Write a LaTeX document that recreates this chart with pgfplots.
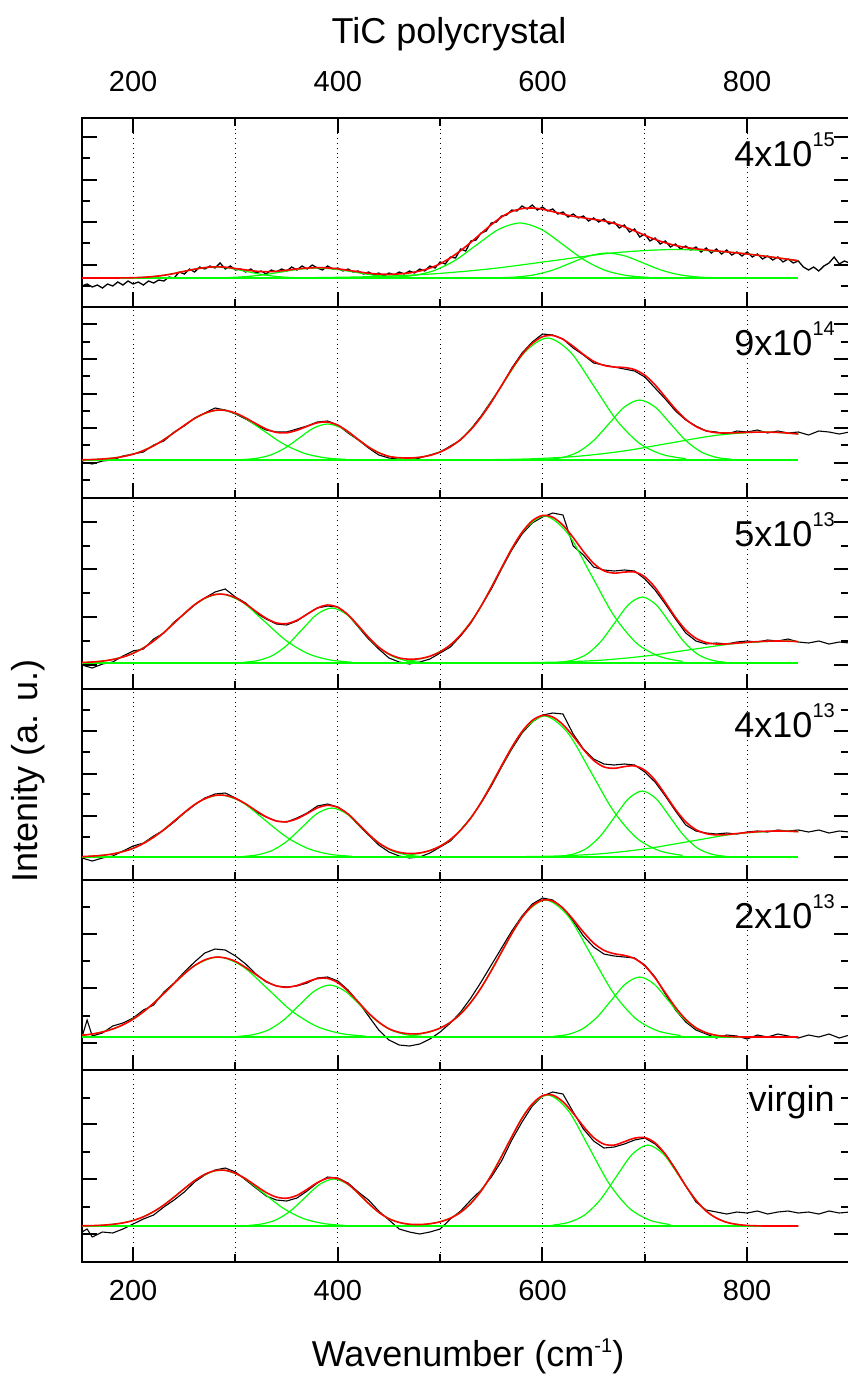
\documentclass[border=0pt]{standalone}
\usepackage{fontspec}
\setmainfont{Liberation Sans}
\usepackage{pgfplots}
\pgfplotsset{compat=1.18}
\newcommand{\fs}{\fontsize{14.5}{17}\selectfont}
\newcommand{\fl}{\fontsize{18}{21}\selectfont}
\newcommand{\sps}[1]{\raisebox{10pt}{\fontsize{10}{11}\selectfont #1}}
\definecolor{fitred}{RGB}{255,0,0}
\definecolor{cgreen}{RGB}{0,255,0}
\tikzset{lbl/.style={anchor=north east, inner sep=0pt, font=\fl}}
\pgfplotsset{
  panel/.style={scale only axis, width=383.75pt, xmin=150, xmax=900, ymin=0,
    anchor=north west, axis line style={line width=1.2pt},
    major tick style={black, line width=1pt}, minor tick style={black, line width=1pt},
    major tick length=7.5pt, minor tick length=4pt, tick align=inside,
    xtick={200,400,600,800}, minor xtick={300,500,700},
    xmajorgrids, xminorgrids, grid style={dotted, black, line width=0.5pt},
    xtick pos=left, ytick pos=both, yticklabels={}, xticklabels={},
    xticklabel style={font=\fs, inner sep=0pt}},
  blk/.style={black, line width=0.55pt, mark=none},
  grn/.style={cgreen, line width=0.6pt, mark=none, smooth},
  gbase/.style={cgreen, line width=1.2pt, mark=none},
  fit/.style={fitred, line width=0.8pt, mark=none, smooth}
}
\begin{document}
\begin{tikzpicture}
% ---------------- Panel 1 : 4x10^15 ----------------
\begin{axis}[panel, at={(0pt,0pt)}, height=94.5pt, ymax=189,
  xtick pos=both, xticklabel pos=right, xticklabels={200,400,600,800},
  xticklabel style={yshift=12.75pt},
  ytick={42.3,84.9,127.5,170.1}, minor ytick={21,63.6,106.2,148.8}]
\addplot[blk, line width=0.65pt] coordinates {(150,21)(155,23)(160,20)(165,22)(170,19)(175,23)(180,21)(185,25)(190,22)(195,26)(200,23)(205,25)(210,22)(215,26)(220,24)(225,27)(230,26)(235,30)(240,29)(245,35)(250,33)(255,38)(260,35)(265,40)(270,38)(275,41)(280,39)(285,44)(290,38)(295,41)(300,37)(305,38)(310,35)(315,38)(320,34)(325,36)(330,33)(335,37)(340,35)(345,38)(350,36)(355,40)(360,37)(365,41)(370,38)(375,42)(380,39)(385,37)(390,41)(395,38)(400,39)(405,36)(410,38)(415,35)(420,36)(425,33)(430,35)(435,32)(440,34)(445,31)(450,34)(455,32)(460,35)(465,33)(470,36)(475,34)(480,38)(485,36)(490,41)(495,39)(500,45)(505,43)(510,50)(515,49)(520,58)(525,56)(530,66)(535,67)(540,74)(545,76)(550,84)(555,85)(560,91)(565,92)(570,97)(575,96)(580,101)(585,98)(590,102)(595,97)(600,100)(605,96)(610,98)(615,93)(620,95)(625,90)(630,93)(635,89)(640,91)(645,86)(650,89)(655,85)(660,88)(665,83)(670,85)(675,79)(680,82)(685,75)(690,78)(695,70)(700,73)(705,66)(710,69)(715,63)(720,66)(725,60)(730,63)(735,58)(740,61)(745,57)(750,60)(755,55)(760,59)(765,54)(770,58)(775,53)(780,57)(785,52)(790,55)(795,51)(800,55)(805,50)(810,53)(815,48)(820,51)(825,47)(830,50)(835,45)(840,48)(845,44)(850,46)(855,40)(860,37)(865,40)(870,36)(875,41)(880,44)(885,50)(890,43)(895,46)(900,44)};
\addplot[gbase] coordinates {(150,29)(850,29)};
\addplot[grn] coordinates {(190,29.1)(205,29.5)(220,30.5)(235,32.6)(250,35.7)(265,38.7)(280,40)(295,38.7)(310,35.7)(325,32.6)(340,30.5)(355,29.5)(370,29.1)};
\addplot[grn] coordinates {(275,29.1)(292.5,29.4)(310,30.4)(327.5,32.2)(345,35.1)(362.5,37.8)(380,39)(397.5,37.8)(415,35.1)(432.5,32.2)(450,30.4)(467.5,29.4)(485,29.1)};
\addplot[grn] coordinates {(452,29.6)(473,31.4)(494,36.4)(515,46.9)(536,62.4)(557,77.5)(578,84)(599,77.5)(620,62.4)(641,46.9)(662,36.4)(683,31.4)(704,29.6)};
\addplot[grn] coordinates {(558,29.3)(575.5,30.1)(593,32.4)(610.5,37.1)(628,44.2)(645.5,51.1)(663,54)(680.5,51.1)(698,44.2)(715.5,37.1)(733,32.4)(750.5,30.1)(768,29.3)};
\addplot[grn] coordinates {(370,29.3)(430,30.3)(490,32.9)(550,38.3)(610,46.3)(670,54.2)(730,57.5)(790,54.2)(850,46.3)};
\addplot[fit] coordinates {(150,29)(160,29)(170,29)(180,29)(190,29.1)(200,29.3)(210,29.7)(220,30.5)(230,31.7)(240,33.5)(250,35.7)(260,37.8)(270,39.4)(280,40.2)(290,39.8)(300,38.5)(310,37.1)(320,35.8)(330,35.3)(340,35.7)(350,36.8)(360,38.1)(370,38.9)(380,39.4)(390,39.1)(400,38.2)(410,36.7)(420,35.2)(430,33.8)(440,32.9)(450,32.7)(460,33.1)(470,34.1)(480,36.0)(490,38.9)(500,43.3)(510,49.2)(520,56.4)(530,64.7)(540,73.6)(550,82.3)(560,90.0)(570,95.5)(580,98.4)(590,99.0)(600,97.8)(610,95.4)(620,92.9)(630,90.7)(640,89.2)(650,87.6)(660,86.1)(670,83.6)(680,80.2)(690,76.1)(700,71.7)(710,67.6)(720,64.2)(730,61.5)(740,59.6)(750,58.2)(760,57.1)(770,56.1)(780,55.1)(790,54.1)(800,53.0)(810,51.8)(820,50.5)(830,49.1)(840,47.7)(850,46.3)};
\node[lbl] at (axis cs:886,175) {4x10\sps{15}};
\end{axis}
% ---------------- Panel 2 : 9x10^14 ----------------
\begin{axis}[panel, at={(0pt,-94.5pt)}, height=95.5pt, ymax=191,
  ytick={35.3,69.9,104.5,139.1,173.7}, minor ytick={18,52.6,87.2,121.8,156.4}]
\addplot[blk] coordinates {(150,36)(160,34)(170,37)(180,38)(190,42)(200,44)(210,46)(220,53)(230,57)(240,66)(250,72)(260,80)(270,85)(280,90)(290,88)(300,84)(310,79)(320,73)(330,68)(340,66)(350,66)(360,69)(370,72)(380,76)(390,77)(400,73)(410,65)(420,58)(430,50)(440,43)(450,40)(460,39)(470,38)(480,40)(490,43)(500,46)(510,52)(520,58)(530,69)(540,82)(550,97)(560,112)(570,130)(580,145)(590,156)(600,164)(610,163)(620,159)(630,150)(640,143)(650,135)(660,133)(670,131)(680,129)(690,127)(700,121)(710,110)(720,99)(730,87)(740,78)(750,72)(760,67)(770,66)(780,64)(790,67)(800,66)(810,68)(820,65)(830,67)(840,65)(850,66)(860,63)(870,67)(880,66)(890,64)(900,66)};
\addplot[gbase] coordinates {(150,38)(850,38)};
\addplot[grn] coordinates {(162,38.6)(182.5,40.2)(203,44.8)(223.5,54.3)(244,68.3)(264.5,82.1)(285,88)(305.5,82.1)(326,68.3)(346.5,54.3)(367,44.8)(387.5,40.2)(408,38.6)};
\addplot[grn] coordinates {(306,38.4)(320,39.6)(334,42.9)(348,49.7)(362,59.8)(376,69.8)(390,74)(404,69.8)(418,59.8)(432,49.7)(446,42.9)(460,39.6)(474,38.4)};
\addplot[grn] coordinates {(470,39.3)(492.5,43.4)(515,54.5)(537.5,77.7)(560,112.1)(582.5,145.7)(605,160)(627.5,145.7)(650,112.1)(672.5,77.7)(695,54.5)(717.5,43.4)(740,39.3)};
\addplot[grn] coordinates {(605,38.7)(620,40.6)(635,46.1)(650,57.5)(665,74.4)(680,91)(695,98)(710,91)(725,74.4)(740,57.5)(755,46.1)(770,40.6)(785,38.7)};
\addplot[grn] coordinates {(545,38.3)(590,39.2)(635,41.8)(680,47.1)(725,55)(770,62.7)(815,66)(850,64.0)};
\addplot[fit] coordinates {(150,38.2)(160,38.5)(170,39.0)(180,39.9)(190,41.4)(200,43.8)(210,47.4)(220,52.2)(230,58.3)(240,65.4)(250,72.7)(260,79.5)(270,84.7)(280,87.6)(290,87.6)(300,84.9)(310,80.1)(320,74.3)(330,69.0)(340,65.6)(350,65.2)(360,67.7)(370,71.7)(380,75.2)(390,75.9)(400,72.8)(410,66.4)(420,58.5)(430,51.0)(440,45.3)(450,41.6)(460,40.3)(470,40.0)(480,40.8)(490,42.6)(500,46.0)(510,51.2)(520,58.5)(530,68.4)(540,81.0)(550,95.8)(560,112.5)(570,128.9)(580,143.5)(590,154.6)(600,161.3)(610,162.5)(620,158.7)(630,151.7)(640,143.6)(650,136.7)(660,132.6)(670,131.0)(680,130.5)(690,128.4)(700,122.8)(710,113.2)(720,101.0)(730,88.9)(740,78.7)(750,71.5)(760,67.2)(770,65.3)(780,65.1)(790,65.3)(800,65.6)(810,65.9)(820,65.9)(830,65.6)(840,64.9)(850,64.0)};
\node[lbl] at (axis cs:886,177) {9x10\sps{14}};
\end{axis}
% ---------------- Panel 3 : 5x10^13 ----------------
\begin{axis}[panel, at={(0pt,-190pt)}, height=95.5pt, ymax=191,
  ytick={24,71.8,119.6,167.4}, minor ytick={48,95.7,143.5}]
\addplot[blk] coordinates {(150,24)(160,21)(170,25)(180,27)(190,33)(200,38)(210,40)(220,50)(230,56)(240,67)(250,75)(260,84)(270,91)(280,97)(290,100)(300,92)(310,86)(320,76)(330,70)(340,65)(350,64)(360,68)(370,75)(380,81)(390,83)(400,82)(410,74)(420,62)(430,50)(440,40)(450,31)(460,27)(470,25)(480,27)(490,30)(500,36)(510,42)(520,53)(530,66)(540,83)(550,100)(560,120)(570,139)(580,155)(590,166)(600,172)(610,176)(620,174)(630,143)(640,134)(650,122)(660,119)(670,118)(680,119)(690,118)(700,110)(710,99)(720,85)(730,70)(740,56)(750,48)(760,45)(770,46)(780,45)(790,47)(800,48)(810,47)(820,49)(830,48)(840,50)(850,47)(860,46)(870,48)(880,45)(890,47)(900,46)};
\addplot[gbase] coordinates {(150,26)(850,26)};
\addplot[grn] coordinates {(156,26.8)(177.5,29.0)(199,35.3)(220.5,48.4)(242,67.9)(263.5,86.9)(285,95)(306.5,86.9)(328,67.9)(349.5,48.4)(371,35.3)(392.5,29.0)(414,26.8)};
\addplot[grn] coordinates {(307,26.6)(321.5,28.4)(336,33.4)(350.5,43.9)(365,59.4)(379.5,74.6)(394,81)(408.5,74.6)(423,59.4)(437.5,43.9)(452,33.4)(466.5,28.4)(481,26.6)};
\addplot[grn] coordinates {(467,27.6)(489.5,32.5)(512,45.8)(534.5,73.8)(557,115.2)(579.5,155.8)(602,173)(624.5,155.8)(647,115.2)(669.5,73.8)(692,45.8)(714.5,32.5)(737,27.6)};
\addplot[grn] coordinates {(616.5,26.7)(630,28.9)(643.5,34.9)(657,47.5)(670.5,66.1)(684,84.3)(697.5,92)(711,84.3)(724.5,66.1)(738,47.5)(751.5,34.9)(765,28.9)(778.5,26.7)};
\addplot[grn] coordinates {(575,26.2)(617.5,27.0)(660,29.0)(702.5,33.2)(745,39.4)(787.5,45.4)(830,48)(850,47.4)};
\addplot[fit] coordinates {(150,26.5)(160,27.0)(170,27.9)(180,29.5)(190,32.0)(200,35.7)(210,41.0)(220,48.0)(230,56.4)(240,65.9)(250,75.5)(260,84.3)(270,90.9)(280,94.5)(290,94.5)(300,91.2)(310,85.1)(320,77.6)(330,70.7)(340,66.1)(350,65.4)(360,68.7)(370,74.8)(380,81.0)(390,84.0)(400,81.7)(410,74.2)(420,63.3)(430,51.7)(440,41.8)(450,35.0)(460,31.1)(470,29.8)(480,30.4)(490,32.8)(500,37.3)(510,44.2)(520,54.0)(530,66.8)(540,82.9)(550,101.4)(560,121.2)(570,140.4)(580,156.7)(590,168.3)(600,173.5)(610,171.8)(620,163.8)(630,151.5)(640,137.5)(650,125.6)(660,118.2)(670,115.9)(680,116.9)(690,117.0)(700,112.2)(710,101.6)(720,86.9)(730,71.6)(740,59.0)(750,50.7)(760,46.5)(770,45.0)(780,45.1)(790,45.9)(800,46.7)(810,47.4)(820,47.8)(830,48.0)(840,47.8)(850,47.4)};
\node[lbl] at (axis cs:886,177) {5x10\sps{13}};
\end{axis}
% ---------------- Panel 4 : 4x10^13 ----------------
\begin{axis}[panel, at={(0pt,-285.5pt)}, height=95.5pt, ymax=191,
  ytick={23.3,64.3,106.5,149.3}, minor ytick={43.5,86,128.3,170}]
\addplot[blk] coordinates {(150,22)(160,19)(170,22)(180,24)(190,29)(200,34)(210,37)(220,44)(230,50)(240,58)(250,67)(260,75)(270,82)(280,86)(290,87)(300,82)(310,76)(320,68)(330,63)(340,59)(350,58)(360,62)(370,67)(380,74)(390,76)(400,73)(410,66)(420,55)(430,45)(440,35)(450,28)(460,24)(470,22)(480,23)(490,27)(500,33)(510,39)(520,50)(530,62)(540,77)(550,94)(560,113)(570,131)(580,147)(590,158)(600,165)(610,167)(620,166)(630,146)(640,131)(650,121)(660,116)(670,115)(680,116)(690,115)(700,108)(710,98)(720,84)(730,69)(740,55)(750,49)(760,47)(770,46)(780,47)(790,46)(800,48)(810,49)(820,48)(830,50)(840,49)(850,50)(860,48)(870,50)(880,47)(890,49)(900,48)};
\addplot[gbase] coordinates {(150,23)(850,23)};
\addplot[grn] coordinates {(156,23.7)(177.5,25.7)(199,31.4)(220.5,43.2)(242,60.6)(263.5,77.7)(285,85)(306.5,77.7)(328,60.6)(349.5,43.2)(371,31.4)(392.5,25.7)(414,23.7)};
\addplot[grn] coordinates {(307,23.5)(321.5,25.2)(336,29.6)(350.5,38.9)(365,52.7)(379.5,66.3)(394,72)(408.5,66.3)(423,52.7)(437.5,38.9)(452,29.6)(466.5,25.2)(481,23.5)};
\addplot[grn] coordinates {(467,24.6)(489.5,29.2)(512,42.0)(534.5,68.8)(557,108.6)(579.5,147.5)(602,164)(624.5,147.5)(647,108.6)(669.5,68.8)(692,42.0)(714.5,29.2)(737,24.6)};
\addplot[grn] coordinates {(616.5,23.7)(630,25.9)(643.5,31.9)(657,44.5)(670.5,63.1)(684,81.3)(697.5,89)(711,81.3)(724.5,63.1)(738,44.5)(751.5,31.9)(765,25.9)(778.5,23.7)};
\addplot[grn] coordinates {(575,23.3)(617.5,24.1)(660,26.5)(702.5,31.5)(745,38.8)(787.5,46.0)(830,49)(850,48.3)};
\addplot[fit] coordinates {(150,23.4)(160,23.9)(170,24.7)(180,26.1)(190,28.4)(200,31.7)(210,36.5)(220,42.8)(230,50.3)(240,58.9)(250,67.5)(260,75.4)(270,81.3)(280,84.6)(290,84.6)(300,81.6)(310,76.1)(320,69.4)(330,63.2)(340,58.9)(350,58.3)(360,61.2)(370,66.5)(380,72.1)(390,74.7)(400,72.6)(410,66.0)(420,56.3)(430,45.9)(440,37.1)(450,31.1)(460,27.7)(470,26.5)(480,27.1)(490,29.5)(500,33.8)(510,40.5)(520,49.9)(530,62.1)(540,77.6)(550,95.3)(560,114.3)(570,132.7)(580,148.5)(590,159.6)(600,164.6)(610,163.0)(620,155.4)(630,143.8)(640,130.6)(650,119.6)(660,113.1)(670,111.7)(680,113.4)(690,114.1)(700,109.8)(710,99.8)(720,85.4)(730,70.5)(740,58.2)(750,50.3)(760,46.4)(770,45.1)(780,45.5)(790,46.5)(800,47.5)(810,48.3)(820,48.8)(830,49.0)(840,48.8)(850,48.3)};
\node[lbl] at (axis cs:886,177) {4x10\sps{13}};
\end{axis}
% ---------------- Panel 5 : 2x10^13 ----------------
\begin{axis}[panel, at={(0pt,-381pt)}, height=95pt, ymax=190,
  ytick={27.3,81.7,136.1}, minor ytick={54.5,108.9,163.3}]
\addplot[blk] coordinates {(150,33)(155,50)(160,34)(170,37)(180,44)(190,47)(200,52)(210,60)(220,65)(230,78)(240,87)(250,98)(260,108)(270,117)(280,121)(290,120)(300,114)(310,106)(320,96)(330,88)(340,84)(350,83)(360,84)(370,87)(380,92)(390,93)(400,89)(410,80)(420,68)(430,54)(440,40)(450,30)(460,25)(470,24)(480,26)(490,31)(500,38)(510,47)(520,58)(530,72)(540,88)(550,105)(560,122)(570,139)(580,154)(590,166)(600,172)(610,170)(620,162)(630,149)(640,134)(650,123)(660,116)(670,114)(680,113)(690,112)(700,105)(710,93)(720,76)(730,60)(740,48)(750,40)(760,36)(770,32)(780,35)(790,34)(800,31)(810,35)(820,33)(830,36)(840,34)(850,32)(860,35)(870,33)(880,36)(890,32)(900,35)};
\addplot[gbase] coordinates {(150,33)(850,33)};
\addplot[grn] coordinates {(150,34.7)(163,36.5)(187,43.8)(211,59.0)(235,81.6)(259,103.6)(283,113)(307,103.6)(331,81.6)(355,59.0)(379,43.8)(403,36.5)(427,33.9)};
\addplot[grn] coordinates {(302,33.6)(317,35.3)(332,40.0)(347,49.9)(362,64.6)(377,78.9)(392,85)(407,78.9)(422,64.6)(437,49.9)(452,40.0)(467,35.3)(482,33.6)};
\addplot[grn] coordinates {(471,34.5)(493,39.0)(515,51.5)(537,77.5)(559,116.1)(581,154.0)(603,170)(625,154.0)(647,116.1)(669,77.5)(691,51.5)(713,39.0)(735,34.5)};
\addplot[grn] coordinates {(611,33.7)(625,35.6)(639,41.1)(653,52.5)(667,69.4)(681,86.0)(695,93)(709,86.0)(723,69.4)(737,52.5)(751,41.1)(765,35.6)(779,33.7)};
\addplot[fit] coordinates {(150,34.7)(160,36.0)(170,38.0)(180,41.0)(190,45.2)(200,50.9)(210,58.2)(220,66.8)(230,76.5)(240,86.6)(250,96.2)(260,104.4)(270,110.1)(280,112.8)(290,112.1)(300,108.6)(310,102.5)(320,95.4)(330,88.6)(340,84.1)(350,82.7)(360,84.5)(370,88.2)(380,91.4)(390,91.6)(400,87.3)(410,78.8)(420,68.0)(430,57.0)(440,47.9)(450,41.2)(460,37.7)(470,36.2)(480,36.4)(490,38.4)(500,41.9)(510,47.7)(520,56.1)(530,67.6)(540,82.2)(550,99.3)(560,118.0)(570,136.4)(580,152.5)(590,164.1)(600,169.9)(610,168.9)(620,161.9)(630,150.5)(640,137.9)(650,126.9)(660,119.7)(670,116.3)(680,114.6)(690,111.4)(700,104.1)(710,92.1)(720,77.3)(730,62.6)(740,50.6)(750,42.2)(760,37.3)(770,34.7)(780,33.6)(790,33.2)(800,33)(850,33)};
\node[lbl] at (axis cs:886,176) {2x10\sps{13}};
\end{axis}
% ---------------- Panel 6 : virgin ----------------
\begin{axis}[panel, at={(0pt,-476pt)}, height=96pt, ymax=192,
  xticklabels={200,400,600,800}, xticklabel style={yshift=-9pt},
  ytick={28,83,138}, minor ytick={55,110,164.5}]
\addplot[blk] coordinates {(150,30)(155,33)(160,25)(170,30)(180,29)(190,33)(200,38)(210,43)(220,47)(230,55)(240,62)(250,70)(260,80)(270,87)(280,92)(290,94)(300,90)(310,82)(320,74)(330,66)(340,62)(350,61)(360,64)(370,71)(380,79)(390,85)(400,84)(410,79)(420,70)(430,62)(440,51)(450,42)(460,33)(470,30)(480,28)(490,30)(500,33)(510,43)(520,51)(530,62)(540,72)(550,85)(560,101)(570,122)(580,140)(590,156)(600,166)(610,170)(620,168)(630,150)(640,133)(650,121)(660,114)(670,115)(680,118)(690,122)(700,124)(710,118)(720,108)(730,93)(740,76)(750,60)(760,52)(770,50)(780,48)(790,50)(800,49)(810,51)(820,48)(830,50)(840,51)(850,49)(860,50)(870,48)(880,51)(890,49)(900,50)};
\addplot[gbase] coordinates {(150,36)(850,36)};
\addplot[grn] coordinates {(166,36.6)(186,38.5)(206,43.6)(226,54.2)(246,70.0)(266,85.4)(286,92)(306,85.4)(326,70.0)(346,54.2)(366,43.6)(386,38.5)(406,36.6)};
\addplot[grn] coordinates {(312,36.5)(326,38.1)(340,42.3)(354,51.3)(368,64.5)(382,77.5)(396,83)(410,77.5)(424,64.5)(438,51.3)(452,42.3)(466,38.1)(480,36.5)};
\addplot[grn] coordinates {(485,37.4)(505,41.8)(525,53.7)(545,78.6)(565,115.5)(585,151.7)(605,167)(625,151.7)(645,115.5)(665,78.6)(685,53.7)(705,41.8)(725,37.4)};
\addplot[grn] coordinates {(610,36.9)(625.5,39.6)(641,46.9)(656.5,62.3)(672,85.2)(687.5,107.5)(703,117)(718.5,107.5)(734,85.2)(749.5,62.3)(765,46.9)(780.5,39.6)(796,36.9)};
\addplot[fit] coordinates {(150,36.2)(160,36.4)(170,36.8)(180,37.7)(190,39.1)(200,41.5)(210,45.2)(220,50.4)(230,57.0)(240,64.9)(250,73.4)(260,81.4)(270,87.7)(280,91.4)(290,91.7)(300,88.7)(310,83.2)(320,76.2)(330,69.5)(340,64.9)(350,63.8)(360,66.6)(370,72.7)(380,79.4)(390,83.8)(400,83.5)(410,78.0)(420,68.8)(430,58.6)(440,49.7)(450,43.3)(460,39.6)(470,37.8)(480,37.5)(490,38.3)(500,40.2)(510,43.8)(520,49.7)(530,58.7)(540,71.0)(550,87.0)(560,105.6)(570,125.3)(580,143.8)(590,158.1)(600,166.3)(610,166.9)(620,160.3)(630,148.8)(640,135.6)(650,124.4)(660,117.9)(670,116.9)(680,120.3)(690,123.9)(700,124.4)(710,119.2)(720,107.8)(730,92.4)(740,76.1)(750,61.8)(760,50.9)(770,43.9)(780,39.7)(790,37.6)(800,36.6)(810,36.2)(820,36)(850,36)};
\node[lbl] at (axis cs:886,177) {virgin};
\end{axis}
\node[anchor=base, font=\fl] at (183.5pt,37.5pt) {TiC polycrystal};
\node[anchor=base, font=\fl] at (193pt,-624pt) {Wavenumber (cm\raisebox{7pt}{\fontsize{10}{11}\selectfont -1})};
\node[anchor=base, rotate=90, font=\fl] at (-22.5pt,-326.5pt) {Intenity (a. u.)};
\pgfresetboundingbox
\path[use as bounding box] (-41pt,59pt) rectangle (382.5pt,-629.5pt);
\end{tikzpicture}
\end{document}
